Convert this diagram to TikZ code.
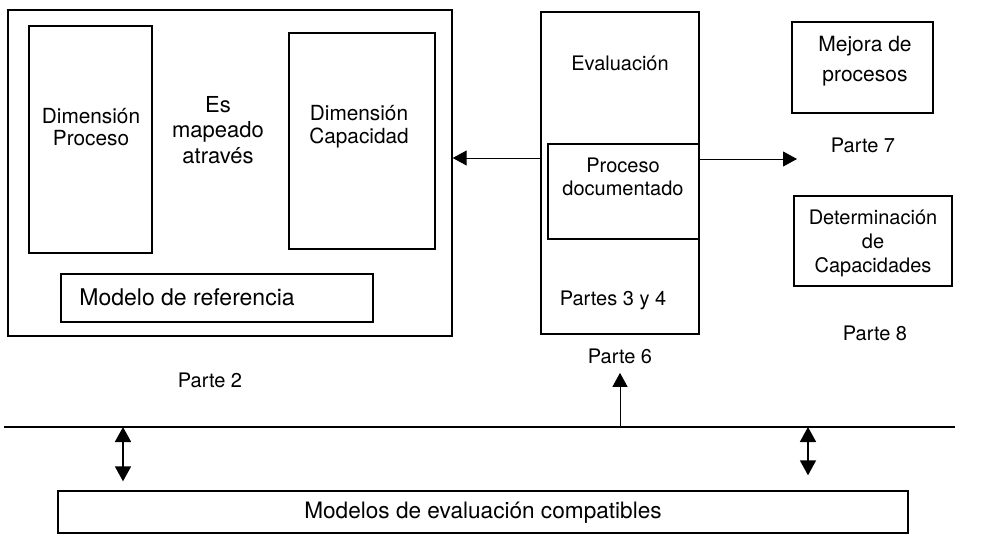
\documentclass[tikz,border=0pt]{standalone}
\usepackage{fontspec}
\setmainfont{TeX Gyre Heros}
\usetikzlibrary{arrows.meta}

\begin{document}
\begin{tikzpicture}[x=0.5pt,y=-0.5pt,
    caja/.style={draw, line width=0.7pt, inner sep=0pt},
    texto/.style={align=center, inner sep=0pt, font=\fontsize{10}{11.2}\selectfont},
    flecha/.style={-{Triangle[width=7.5pt,length=7pt]}, line width=0.5pt},
    doble/.style={{Triangle[width=8pt,length=7.5pt]}-{Triangle[width=8pt,length=7.5pt]}, line width=0.9pt}]

        \useasboundingbox (0,0) rectangle (990,535);

        \begin{scope}[every node/.style={caja}]
          \node[minimum width=222pt, minimum height=163pt]  (marco)   at (230,173)     {};
          \node[minimum width=61.5pt, minimum height=113.5pt] (dimproc) at (90.5,139.5) {};
          \node[minimum width=73pt, minimum height=108pt]   (dimcap)  at (362,141)     {};
          \node[minimum width=156pt, minimum height=24pt]   (modref)  at (217,298)     {};
          \node[minimum width=79pt, minimum height=161pt]   (eval)    at (620,173)     {};
          \node[minimum width=75.5pt, minimum height=47.5pt] (procdoc) at (623.5,191.5) {};
          \node[minimum width=70.5pt, minimum height=45.5pt] (mejora) at (862.5,67.5)  {};
          \node[minimum width=79pt, minimum height=45pt]    (capac)   at (873,241)     {};
          \node[minimum width=425pt, minimum height=21pt]   (modelos) at (483,512)     {};
        \end{scope}

        \begin{scope}[every node/.style={texto}]
          \node[font=\fontsize{10.4}{11.2}\selectfont] (tproc) at (91,127) {Dimensión\\Proceso};
          \node[font=\fontsize{11}{12.75}\selectfont] (tmapeo) at (218,130) {Es\\mapeado\\através};
          \node[font=\fontsize{10.4}{11.2}\selectfont] (tcap) at (359,126.5) {Dimensión\\Capacidad};
          \node[anchor=west, font=\fontsize{11.5}{13}\selectfont] (tref) at (79,297) {Modelo de referencia};
          \node (teval)   at (620,63)    {Evaluación};
          \node (tdoc)    at (623,177)   {Proceso\\documentado};
          \node (tpartes) at (613,300)   {Partes 3 y 4};
          \node[font=\fontsize{10.5}{15}\selectfont] (tmejora) at (865,61) {Mejora de\\procesos};
          \node (p7)      at (863,145)   {Parte 7};
          \node[font=\fontsize{10}{12}\selectfont] (tdet) at (873,243) {Determinación\\de\\Capacidades};
          \node (p8)      at (875,333)   {Parte 8};
          \node (p6)      at (620,356)   {Parte 6};
          \node (p2)      at (210,380)   {Parte 2};
          \node[font=\fontsize{11.3}{13}\selectfont] (tmod) at (483,513) {Modelos de evaluación compatibles};
        \end{scope}

        % linea comun
        \coordinate (busizq) at (4,427);
        \coordinate (busder) at (955,427);
        \coordinate (p7flecha) at (797,159);
        \coordinate (izqabajo) at ([xshift=-180pt,yshift=4.5pt]modelos.north);
        \coordinate (derabajo) at ([xshift=162.5pt,yshift=7.5pt]modelos.north);
        \coordinate (p6abajo) at ([yshift=-4.5pt]p6.south);

        \draw[line width=0.8pt] (busizq) -- (busder);

        \draw[flecha] ([yshift=7.5pt]eval.west) -- ([yshift=7.5pt]marco.east);
        \draw[flecha] ([yshift=16.25pt]procdoc.east) -- (p7flecha);
        \draw[flecha] (p6abajo |- busizq) -- (p6abajo);
        \draw[doble] (izqabajo |- busizq) -- (izqabajo);
        \draw[doble] (derabajo |- busizq) -- (derabajo);

\end{tikzpicture}
\end{document}
